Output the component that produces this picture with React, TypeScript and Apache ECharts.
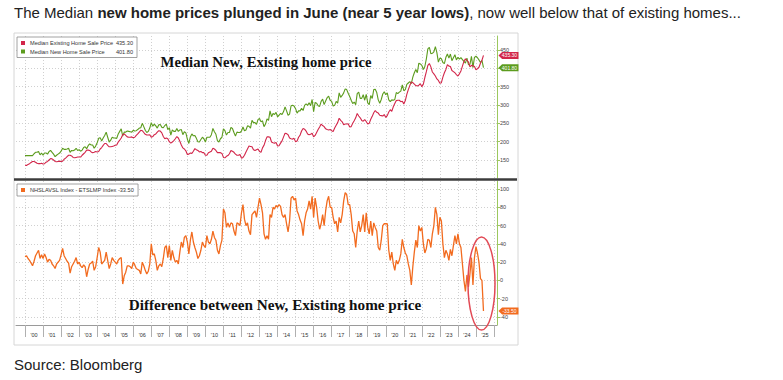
import React, { useEffect, useRef } from "react";
import * as echarts from "echarts";

// Monthly values, Jan 2000 .. Jun 2025 (thousands of USD)
const existingPrice = [
  136, 135, 138, 140, 143, 146, 146, 144, 141, 140, 140, 141, // 2000
  139, 140, 144, 146, 150, 154, 153, 150, 146, 145, 146, 147, // 2001
  146, 147, 152, 155, 159, 163, 163, 161, 157, 156, 157, 158, // 2002
  158, 158, 163, 167, 171, 177, 177, 176, 172, 170, 171, 173, // 2003
  172, 173, 180, 184, 190, 195, 195, 190, 186, 186, 187, 188, // 2004
  190, 191, 199, 204, 210, 219, 221, 217, 213, 212, 212, 213, // 2005
  211, 212, 217, 221, 226, 231, 230, 225, 220, 218, 218, 219, // 2006
  212, 214, 219, 221, 226, 230, 229, 224, 214, 208, 210, 208, // 2007
  200, 196, 199, 203, 208, 214, 210, 201, 191, 183, 180, 175, // 2008
  165, 166, 169, 168, 174, 181, 178, 176, 172, 173, 170, 170, // 2009
  163, 163, 170, 172, 174, 182, 180, 176, 170, 170, 170, 168, // 2010
  157, 156, 160, 162, 167, 176, 174, 171, 166, 163, 163, 165, // 2011
  155, 157, 163, 172, 180, 188, 187, 186, 178, 176, 178, 180, // 2012
  173, 171, 183, 190, 203, 213, 213, 212, 199, 197, 196, 198, // 2013
  188, 189, 196, 202, 213, 223, 222, 219, 210, 208, 207, 209, // 2014
  200, 202, 212, 218, 229, 236, 234, 229, 221, 219, 220, 223, // 2015
  213, 217, 225, 233, 240, 248, 244, 241, 235, 233, 232, 233, // 2016
  230, 228, 237, 245, 252, 264, 258, 254, 246, 248, 248, 249, // 2017
  240, 241, 250, 257, 265, 277, 270, 265, 258, 256, 260, 255, // 2018
  248, 250, 261, 269, 279, 285, 280, 278, 272, 271, 270, 274, // 2019
  266, 271, 281, 287, 283, 295, 304, 312, 313, 313, 309, 310, // 2020
  303, 312, 329, 342, 353, 363, 361, 357, 353, 352, 354, 358, // 2021
  350, 357, 375, 391, 408, 413, 404, 390, 385, 379, 371, 367, // 2022
  359, 361, 376, 388, 397, 410, 406, 405, 394, 391, 388, 383, // 2023
  379, 385, 393, 406, 419, 426, 422, 417, 404, 408, 407, 405, // 2024
  396, 399, 403, 414, 422, 435.3, // 2025
];

const newPrice = [
  162, 162, 162, 162, 162, 162, 167, 171, 171, 173, 164, 169, // 2000
  163, 169, 169, 166, 173, 176, 171, 166, 159, 163, 166, 169, // 2001
  174, 182, 179, 179, 180, 182, 171, 176, 175, 177, 182, 176, // 2002
  178, 174, 177, 184, 186, 181, 189, 194, 191, 191, 182, 188, // 2003
  197, 209, 211, 202, 210, 217, 226, 212, 199, 204, 212, 210, // 2004
  210, 209, 221, 228, 235, 215, 226, 226, 229, 228, 227, 226, // 2005
  231, 229, 230, 233, 237, 238, 250, 241, 231, 225, 228, 237, // 2006
  252, 242, 248, 243, 237, 246, 247, 239, 238, 244, 248, 233, // 2007
  238, 218, 232, 228, 228, 236, 228, 232, 233, 219, 227, 224, // 2008
  207, 195, 213, 221, 216, 217, 209, 200, 199, 206, 212, 208, // 2009
  199, 212, 212, 212, 219, 236, 227, 220, 203, 199, 208, 212, // 2010
  235, 230, 218, 225, 225, 239, 236, 225, 215, 226, 225, 225, // 2011
  229, 240, 230, 232, 243, 242, 237, 258, 252, 252, 247, 260, // 2012
  263, 254, 257, 241, 248, 262, 258, 284, 268, 277, 274, 280, // 2013
  268, 272, 277, 274, 282, 295, 284, 272, 275, 298, 299, 297, // 2014
  290, 278, 284, 284, 291, 285, 299, 303, 299, 306, 298, 315, // 2015
  282, 307, 305, 298, 296, 310, 316, 301, 311, 320, 324, 313, // 2016
  310, 297, 299, 310, 305, 333, 321, 326, 333, 344, 342, 332, // 2017
  323, 313, 304, 308, 301, 331, 335, 318, 318, 328, 313, 329, // 2018
  306, 301, 326, 318, 342, 343, 334, 314, 305, 315, 330, 336, // 2019
  328, 333, 314, 309, 314, 313, 315, 334, 331, 335, 338, 355, // 2020
  339, 342, 356, 360, 364, 358, 376, 388, 397, 388, 414, 412, // 2021
  408, 397, 405, 426, 453, 457, 440, 441, 445, 459, 443, 417, // 2022
  428, 426, 416, 413, 430, 439, 428, 439, 421, 429, 437, 423, // 2023
  430, 425, 429, 424, 419, 414, 428, 410, 411, 433, 402, 430, // 2024
  433, 429, 423, 416, 422, 401.8, // 2025
];

const priceDiff = [
  26, 27, 24, 22, 19, 16, 21, 27, 30, 33, 24, 28, // 2000
  24, 29, 25, 20, 23, 22, 18, 16, 13, 18, 20, 22, // 2001
  28, 35, 27, 24, 21, 19, 8, 15, 18, 21, 25, 18, // 2002
  20, 16, 14, 17, 15, 4, 12, 18, 19, 21, 11, 15, // 2003
  25, 36, 31, 18, 20, 22, 31, 22, 13, 18, 25, 22, // 2004
  20, 18, 22, 24, 25, -4, 5, 9, 16, 16, 15, 13, // 2005
  20, 17, 13, 12, 11, 7, 20, 16, 11, 7, 10, 18, // 2006
  40, 28, 29, 22, 11, 16, 18, 15, 24, 36, 38, 25, // 2007
  38, 22, 33, 25, 20, 22, 18, 31, 42, 36, 47, 49, // 2008
  42, 29, 44, 53, 42, 36, 31, 24, 27, 33, 42, 38, // 2009
  36, 49, 42, 40, 45, 54, 47, 44, 33, 29, 38, 44, // 2010
  78, 74, 58, 63, 58, 63, 62, 54, 49, 63, 62, 60, // 2011
  74, 83, 67, 60, 63, 54, 50, 72, 74, 76, 69, 80, // 2012
  90, 83, 74, 51, 45, 49, 45, 72, 69, 80, 78, 82, // 2013
  80, 83, 81, 72, 69, 72, 62, 53, 65, 90, 92, 88, // 2014
  90, 76, 72, 66, 62, 49, 65, 74, 78, 87, 78, 92, // 2015
  69, 90, 80, 65, 56, 62, 72, 60, 76, 87, 92, 80, // 2016
  80, 69, 62, 65, 53, 69, 63, 72, 87, 96, 94, 83, // 2017
  83, 72, 54, 51, 36, 54, 65, 53, 60, 72, 53, 74, // 2018
  58, 51, 65, 49, 63, 58, 54, 36, 33, 44, 60, 62, // 2019
  62, 62, 33, 22, 31, 18, 11, 22, 18, 22, 29, 45, // 2020
  36, 30, 27, 18, 11, -5, 15, 31, 44, 36, 60, 54, // 2021
  58, 40, 30, 35, 45, 44, 36, 51, 60, 80, 72, 50, // 2022
  69, 65, 40, 25, 33, 29, 22, 34, 27, 38, 49, 40, // 2023
  51, 40, 36, 18, 0, -12, 6, -7, 7, 25, -5, 25, // 2024
  37, 30, 20, 2, 0, -33.5, // 2025
];

const seriesNames = [
  "Median Existing Home Sale Price",
  "Median New Home Sale Price",
  "NHSLAVSL Index - ETSLMP Index",
];

// right-axis tick values that sit behind the last-value tags in the reference
const hiddenTopTicks = [400];

const firstMonth = "1999-07";
const lastMonth = "2026-03";
const dataStart = "2000-01";

const months: string[] = [];
for (let y = 1999; y <= 2026; y++) {
  for (let m = 1; m <= 12; m++) {
    const s = `${y}-${String(m).padStart(2, "0")}`;
    if (s >= firstMonth && s <= lastMonth) months.push(s);
  }
}
const lead = months.indexOf(dataStart);
const pad = (arr: number[]) => [...Array(lead).fill(null), ...arr];
const lastOf = (arr: number[]) => arr[arr.length - 1];
const lastCat = months[lead + existingPrice.length - 1];
const fmt = (v: number) => v.toFixed(2);

const RED = "#d2264a";
const GREEN = "#5c9c1e";
const ORANGE = "#f26b1f";
const AXIS_GREEN = "#9cc85e";
const GRID = "#c4c4c4";
const SANS = "'Liberation Sans', Arial, sans-serif";
const SERIF = "'Liberation Serif', 'Times New Roman', serif";
const tagPath = "path://M0,4 L4,0 L22,0 L22,8 L4,8 Z";

const isJan = (i: number) => months[i] !== undefined && months[i].endsWith("-01");

function tag(color: string, value: number) {
  return {
    symbol: tagPath,
    symbolSize: [20, 7],
    symbolOffset: [25, 0],
    silent: true,
    z: 20,
    itemStyle: { color },
    label: {
      show: true,
      position: "inside",
      color: "#fff",
      fontSize: 5,
      fontFamily: SANS,
      offset: [1, 0],
      formatter: fmt(value),
    },
    data: [{ coord: [lastCat, value], value }],
  };
}

function xAxis(gridIndex: number, visible: boolean) {
  return {
    type: "category",
    gridIndex,
    data: months,
    boundaryGap: false,
    axisLine: { show: visible, onZero: false, lineStyle: { color: "#9a9a9a", width: 1 } },
    axisTick: {
      show: visible,
      interval: (i: number) => isJan(i),
      length: 12,
      lineStyle: { color: "#b0b0b0", width: 1 },
    },
    axisLabel: {
      show: visible,
      interval: (_i: number, v: string) => v.endsWith("-07") && v >= dataStart,
      formatter: (v: string) => "'" + v.slice(2, 4),
      fontSize: 5.5,
      color: "#333",
      fontFamily: SANS,
      margin: 7,
    },
    splitLine: {
      show: true,
      interval: (i: number) => isJan(i),
      lineStyle: { color: GRID, type: [1, 2], width: 0.8 },
    },
  };
}

function yAxis(gridIndex: number, min: number, max: number, step: number, hide: number[]) {
  return {
    type: "value",
    gridIndex,
    position: "right",
    min,
    max,
    minInterval: step,
    maxInterval: step,
    splitNumber: 8,
    axisLine: { show: true, onZero: false, lineStyle: { color: AXIS_GREEN, width: 1 } },
    axisTick: { show: true, length: 3, lineStyle: { color: AXIS_GREEN } },
    axisLabel: {
      show: true,
      showMinLabel: false,
      showMaxLabel: false,
      fontSize: 5.5,
      color: "#444",
      fontFamily: SANS,
      margin: 3,
      formatter: (v: number) => (hide.indexOf(v) >= 0 ? "" : String(v)),
    },
    splitLine: {
      show: true,
      showMinLine: false,
      showMaxLine: false,
      lineStyle: { color: GRID, type: [1, 2], width: 0.8 },
    },
  };
}

const legendBase = {
  orient: "vertical",
  left: 17,
  icon: "rect",
  itemWidth: 4,
  itemHeight: 4,
  itemGap: 1.5,
  padding: [2.5, 4, 2.5, 4],
  borderColor: "#8a8a8a",
  borderWidth: 0.8,
  backgroundColor: "#fff",
  selectedMode: false,
};

const legendValues: Record<string, string> = {
  [seriesNames[0]]: fmt(lastOf(existingPrice)),
  [seriesNames[1]]: fmt(lastOf(newPrice)),
  [seriesNames[2]]: fmt(lastOf(priceDiff)),
};

const annotationStyle = {
  fontWeight: "bold",
  fontFamily: SERIF,
  fill: "#111",
  align: "center",
  verticalAlign: "middle",
  shadowColor: "rgba(0,0,0,0.5)",
  shadowBlur: 3,
  shadowOffsetX: 2,
  shadowOffsetY: 2,
};

const option = {
  animation: false,
  backgroundColor: "#fff",
  title: [
    {
      text: "The Median {b|new home prices plunged in June (near 5 year lows)}, now well below that of existing homes...",
      left: 14,
      top: 5,
      padding: 0,
      textStyle: {
        fontSize: 15,
        fontWeight: "normal",
        color: "#222",
        fontFamily: SANS,
        rich: { b: { fontSize: 15, fontWeight: "bold", color: "#222", fontFamily: SANS } },
      },
    },
    {
      text: "Source: Bloomberg",
      left: 14,
      top: 357,
      padding: 0,
      textStyle: { fontSize: 15, fontWeight: "normal", color: "#222", fontFamily: SANS },
    },
  ],
  legend: [
    {
      ...legendBase,
      top: 37,
      data: [seriesNames[0], seriesNames[1]],
      formatter: (name: string) => `{n|${name}}{v|${legendValues[name]}}`,
      textStyle: {
        fontSize: 5.6,
        color: "#333",
        fontFamily: SANS,
        lineHeight: 7,
        rich: {
          n: { fontSize: 5.6, width: 86, color: "#333", fontFamily: SANS },
          v: { fontSize: 5.6, width: 17, align: "right", color: "#333", fontFamily: SANS },
        },
      },
    },
    {
      ...legendBase,
      top: 184,
      data: [seriesNames[2]],
      formatter: (name: string) => `${name} ${legendValues[name]}`,
      textStyle: { fontSize: 5.6, color: "#333", fontFamily: SANS, lineHeight: 7 },
    },
  ],
  grid: [
    { left: 16, right: 286, top: 36, height: 142 },
    { left: 16, right: 286, top: 181, height: 144 },
  ],
  xAxis: [xAxis(0, false), xAxis(1, true)],
  yAxis: [yAxis(0, 100.9, 488.2, 50, hiddenTopTicks), yAxis(1, -48.75, 108.75, 20, [])],
  series: [
    {
      name: seriesNames[1],
      type: "line",
      xAxisIndex: 0,
      yAxisIndex: 0,
      data: pad(newPrice),
      symbol: "none",
      clip: false,
      lineStyle: { color: GREEN, width: 1.1 },
      itemStyle: { color: GREEN },
      markPoint: tag(GREEN, lastOf(newPrice)),
    },
    {
      name: seriesNames[0],
      type: "line",
      xAxisIndex: 0,
      yAxisIndex: 0,
      data: pad(existingPrice),
      symbol: "none",
      clip: false,
      lineStyle: { color: RED, width: 1.1 },
      itemStyle: { color: RED },
      markPoint: tag(RED, lastOf(existingPrice)),
    },
    {
      name: seriesNames[2],
      type: "line",
      xAxisIndex: 1,
      yAxisIndex: 1,
      data: pad(priceDiff),
      symbol: "none",
      clip: false,
      lineStyle: { color: ORANGE, width: 1.3 },
      itemStyle: { color: ORANGE },
      markPoint: tag(ORANGE, lastOf(priceDiff)),
    },
  ],
  graphic: [
    {
      type: "rect",
      shape: { x: 14, y: 33, width: 504, height: 312 },
      style: { fill: "none", stroke: "#d6d6d6", lineWidth: 1 },
      silent: true,
      z: 0,
    },
    {
      type: "line",
      shape: { x1: 14, y1: 179.5, x2: 517, y2: 179.5 },
      style: { stroke: "#3c3c3c", lineWidth: 2.5 },
      silent: true,
      z: 100,
    },
    {
      type: "text",
      x: 266,
      y: 62,
      silent: true,
      z: 100,
      style: { ...annotationStyle, text: "Median New, Existing home price", fontSize: 14.7 },
    },
    {
      type: "text",
      x: 275,
      y: 304,
      silent: true,
      z: 100,
      style: { ...annotationStyle, text: "Difference between New, Existing home price", fontSize: 15.2 },
    },
    {
      type: "ellipse",
      shape: { cx: 481.5, cy: 283.5, rx: 13.5, ry: 46.5 },
      style: { fill: "none", stroke: "#e24a55", lineWidth: 1.5 },
      silent: true,
      z: 100,
    },
  ],
};

export default function App() {
  const ref = useRef<HTMLDivElement>(null);
  useEffect(() => {
    const chart = echarts.init(ref.current!, null, { renderer: "svg" });
    chart.setOption(option as any);
    return () => chart.dispose();
  }, []);
  return (
    <div
      ref={ref}
      style={{ position: "absolute", left: 0, top: 0, width: 783, height: 380 }}
    />
  );
}
